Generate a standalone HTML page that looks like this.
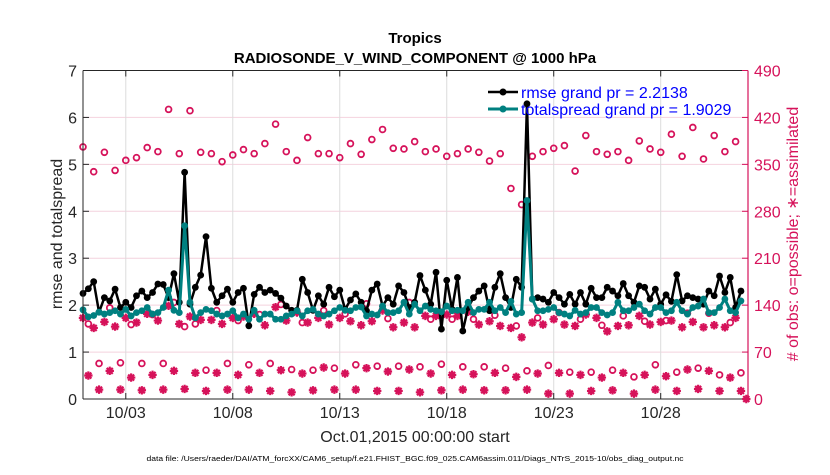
<!DOCTYPE html>
<html><head><meta charset="utf-8"><style>
body{margin:0;background:#fff;}
svg text{font-family:"Liberation Sans",sans-serif;}
</style></head><body>
<svg id="chart" width="830" height="470" viewBox="0 0 830 470" xmlns="http://www.w3.org/2000/svg">
<rect x="0" y="0" width="830" height="470" fill="#fff"/>
<g id="grid"></g>
<g id="marks"></g>
<g id="axes"></g>
<text x="415" y="43" text-anchor="middle" font-size="15" font-weight="bold" fill="#000">Tropics</text>
<text x="415" y="63" text-anchor="middle" font-size="15" font-weight="bold" fill="#000">RADIOSONDE_V_WIND_COMPONENT @ 1000 hPa</text>
<text transform="translate(62,234) rotate(-90)" text-anchor="middle" font-size="16" fill="#262626">rmse and totalspread</text>
<text transform="translate(798,234) rotate(-90)" text-anchor="middle" font-size="16" fill="#d6125a"># of obs: o=possible; ∗=assimilated</text>
<text x="415" y="442" text-anchor="middle" font-size="16" fill="#262626">Oct.01,2015 00:00:00 start</text>
<text x="415" y="461" text-anchor="middle" font-size="7.5" textLength="537" lengthAdjust="spacingAndGlyphs" fill="#000">data file: /Users/raeder/DAI/ATM_forcXX/CAM6_setup/f.e21.FHIST_BGC.f09_025.CAM6assim.011/Diags_NTrS_2015-10/obs_diag_output.nc</text>
<g>
  <g>
    <line x1="488" y1="92" x2="518" y2="92" stroke="#000" stroke-width="2.5"/>
    <circle cx="503" cy="92" r="3.5" fill="#000"/>
    <text x="521" y="98" font-size="16" fill="#0000ff">rmse grand pr = 2.2138</text>
  </g>
  <g>
    <line x1="488" y1="109" x2="518" y2="109" stroke="#008080" stroke-width="3"/>
    <circle cx="503" cy="109" r="3.5" fill="#008080"/>
    <text x="521" y="115" font-size="16" fill="#0000ff">totalspread grand pr = 1.9029</text>
  </g>
</g>
</svg>
<script>
// time axis: days since Oct 01 2015 00Z, 6-hourly
const startDay = 0;
const stepDay = 0.25;
const xTickDays = [2, 7, 12, 17, 22, 27];
const xTickLabels = ["10/03", "10/08", "10/13", "10/18", "10/23", "10/28"];
const leftTicks = [0, 1, 2, 3, 4, 5, 6, 7];
const rightTicks = [0, 70, 140, 210, 280, 350, 420, 490];

const rmse = [2.25,2.35,2.50,1.85,2.16,
2.09,2.34,1.95,2.06,1.95,2.20,2.30,2.16,2.27,2.45,2.44,2.16,2.67,2.06,4.83,2.02,2.38,2.64,3.46,2.36,2.06,2.20,2.34,2.06,2.27,2.36,1.56,2.23,2.38,2.27,
2.32,2.25,2.15,1.98,1.89,1.89,2.55,2.27,1.89,2.20,2.02,2.38,2.18,2.32,1.91,2.11,2.24,2.06,1.88,2.32,2.45,1.98,2.16,2.02,2.41,2.27,1.95,2.06,2.63,2.32,
2.02,2.70,1.49,2.53,1.91,2.59,1.45,1.95,2.16,2.30,2.41,1.88,2.38,2.67,2.16,1.95,2.55,2.38,6.29,2.13,2.16,2.13,2.06,2.27,2.16,2.02,2.23,2.02,2.27,2.02,
2.36,2.16,2.16,2.38,2.30,2.20,2.46,2.20,2.06,2.41,2.38,2.13,2.34,2.02,2.22,2.08,2.65,2.09,2.20,2.16,2.13,2.02,2.30,2.20,2.62,2.27,2.59,1.95,2.30,
null];
const totalspread = [1.90,1.75,1.78,1.85,1.81,
1.84,1.88,1.81,1.91,1.77,1.84,1.88,1.95,1.81,1.84,1.95,2.32,1.89,1.84,3.69,2.06,1.73,1.84,1.91,1.88,1.81,1.77,1.81,1.88,1.73,1.81,1.70,1.89,1.70,1.81,
1.81,1.70,1.70,1.77,1.81,1.88,1.77,1.88,1.91,1.81,1.77,1.81,1.88,1.95,1.89,1.88,1.95,1.96,1.77,1.81,1.79,1.98,1.84,1.84,1.88,2.06,1.81,2.02,1.88,1.98,
1.91,1.88,1.86,1.98,1.88,1.89,1.88,2.06,1.84,1.91,1.91,2.06,1.88,1.95,1.84,2.08,1.81,1.84,4.23,2.13,1.88,1.88,1.91,1.95,1.84,1.81,1.77,1.89,1.81,1.84,
1.95,1.95,1.84,1.79,1.84,2.06,1.88,1.88,1.95,2.02,1.88,1.81,1.95,1.95,1.84,1.88,2.06,1.88,1.81,1.95,1.98,2.13,1.84,1.84,1.95,2.13,1.88,1.84,2.09,
null];
const obsPossible = [376,112,339,53,
368,136,341,54, 356,111,360,53, 375,126,369,53, 432,144,366,108, 430,112,368,43,
366,132,354,53, 364,117,372,51, 366,126,381,53, 410,141,369,44, 356,114,390,43,
366,132,366,46, 360,127,381,51, 365,142,387,49, 402,120,374,49, 373,144,384,48,
369,119,373,52, 362,119,366,48, 373,119,368,48, 355,125,366,46, 314,109,290,42,
362,121,369,50, 374,129,378,40, 340,119,393,40, 369,110,365,43, 369,124,356,33,
385,116,373,51, 368,117,395,40, 362,128,405,46, 358,128,393,36, 369,114,384,39,
null];
const obsAssimilated = [121,35,106,14,
115,42,108,14, 121,32,114,13, 127,36,117,14, 139,42,112,15, 123,39,118,12,
118,39,112,14, 121,36,123,14, 127,39,110,12, 137,43,117,10, 129,38,114,13,
121,47,111,14, 121,38,116,14, 110,46,116,12, 132,41,107,12, 114,44,107,10,
124,38,124,13, 126,36,124,14, 130,37,111,13, 116,39,109,13, 106,33,92,14,
114,38,111,8, 119,39,111,8, 109,36,126,12, 121,32,101,13, 109,39,110,8,
124,36,111,14, 115,34,117,12, 107,44,115,15, 107,42,110,12, 107,32,121,12,
0];

const NS = "http://www.w3.org/2000/svg";
const L = 83, R = 748, T = 70.5, B = 399;
const dayMin = 0, dayMax = 31.08;
const x = d => L + (d - dayMin) / (dayMax - dayMin) * (R - L);
const yL = v => B - v / 7 * (B - T);
const yR = v => B - v / 490 * (B - T);
const RED = "#d6125a";

function mk(tag, attrs, parent) {
  const e = document.createElementNS(NS, tag);
  for (const k in attrs) e.setAttribute(k, attrs[k]);
  parent.appendChild(e);
  return e;
}
const grid = document.getElementById("grid");
const marks = document.getElementById("marks");
const axes = document.getElementById("axes");

// gridlines
leftTicks.forEach(v => {
  if (v === 0 || v === 7) return;
  const g = mk("line", {x1: L, x2: R, y1: yL(v), y2: yL(v), stroke: "#f4d2de", "stroke-width": 1}, grid);
  
  
});
xTickDays.forEach(d => {
  const g = mk("line", {x1: x(d), x2: x(d), y1: T, y2: B, stroke: "#dcdcdc", "stroke-width": 1}, grid);
  
  
});

const tOf = i => startDay + i * stepDay;

// possible circles
obsPossible.forEach((v, i) => {
  if (v === null) return;
  const c = mk("circle", {cx: x(tOf(i)), cy: yR(v), r: 2.9, fill: "none", stroke: RED, "stroke-width": 1.8}, marks);
  
  
});
// assimilated asterisks
obsAssimilated.forEach((v, i) => {
  if (v === null) return;
  const cx = x(tOf(i)), cy = yR(v), s = 4.2, d = 3.0;
  const p = mk("path", {d: `M${cx-s},${cy}H${cx+s}M${cx},${cy-s}V${cy+s}M${cx-d},${cy-d}L${cx+d},${cy+d}M${cx-d},${cy+d}L${cx+d},${cy-d}`, stroke: RED, "stroke-width": 2.2, fill: "none"}, marks);
  
  
});

function series(vals, color, w, name) {
  let d = "";
  let pen = false;
  vals.forEach((v, i) => {
    if (v === null) { pen = false; return; }
    d += (pen ? "L" : "M") + x(tOf(i)).toFixed(2) + "," + yL(v).toFixed(2);
    pen = true;
  });
  const p = mk("path", {d: d, stroke: color, "stroke-width": w, fill: "none", "stroke-linejoin": "round"}, marks);
  
  
  vals.forEach((v, i) => {
    if (v === null) return;
    const c = mk("circle", {cx: x(tOf(i)), cy: yL(v), r: 3.4, fill: color}, marks);
    
    
  });
}
series(rmse, "#000", 2.5, "rmse");
series(totalspread, "#008080", 3, "totalspread");

// axes frame
const fr = mk("path", {d: `M${L},${T}H${R}M${L},${B}H${R}M${L},${T}V${B}`, stroke: "#262626", "stroke-width": 1, fill: "none"}, axes);


const ra = mk("line", {x1: R, x2: R, y1: T, y2: B, stroke: RED, "stroke-width": 1.2}, axes);



leftTicks.forEach(v => {
  const tk = mk("line", {x1: L, x2: L + 6, y1: yL(v), y2: yL(v), stroke: "#262626"}, axes);
  
  
  const t = mk("text", {x: L - 6, y: yL(v) + 6, "text-anchor": "end", "font-size": 16, fill: "#262626"}, axes);
  
  
  t.textContent = v;
});
rightTicks.forEach(v => {
  const tk = mk("line", {x1: R - 6, x2: R, y1: yR(v), y2: yR(v), stroke: RED}, axes);
  
  
  const t = mk("text", {x: R + 6, y: yR(v) + 6, "font-size": 16, fill: RED}, axes);
  
  
  t.textContent = v;
});
xTickDays.forEach((d, k) => {
  const tk = mk("path", {d: `M${x(d)},${B}v-6M${x(d)},${T}v6`, stroke: "#262626"}, axes);
  
  
  const t = mk("text", {x: x(d), y: B + 19, "text-anchor": "middle", "font-size": 16, fill: "#262626"}, axes);
  
  
  t.textContent = xTickLabels[k];
});
</script>
</body></html>
